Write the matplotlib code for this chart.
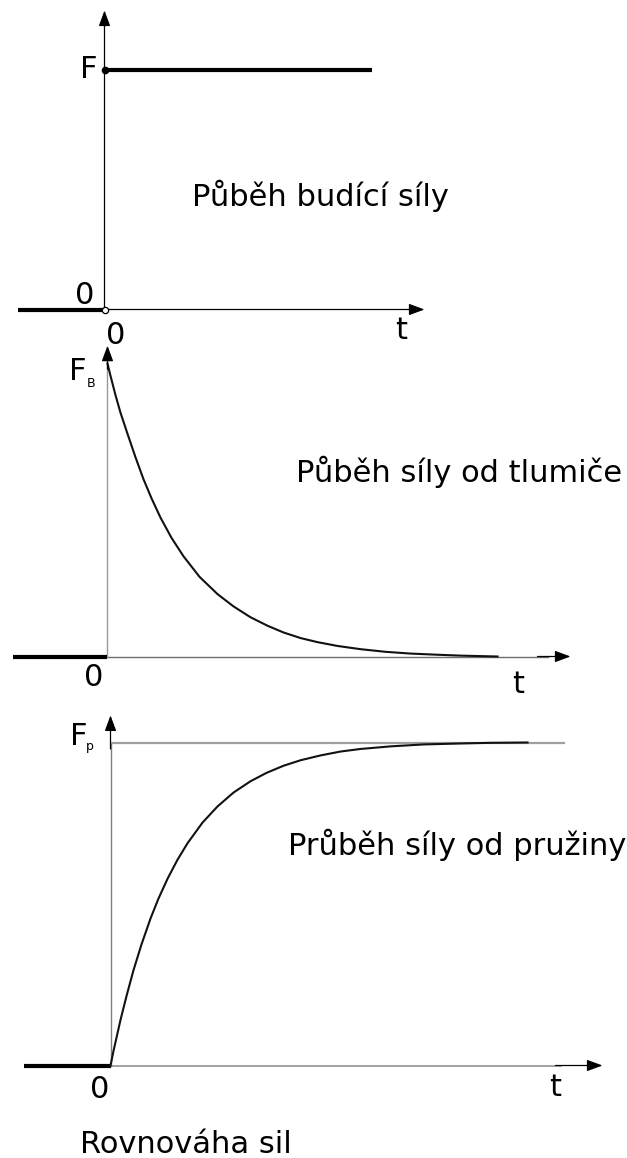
import numpy as np
import matplotlib
matplotlib.use("Agg")
from matplotlib import pyplot as plt

plt.rcParams['font.family'] = ['DejaVu Sans']
##################################################

# --- data -----------------------------------------
# step of the exciting force (normalised to F)
t_before = [-0.87, 0.0]
t_after = [0.0, 2.67]
F_level = 1.0

# damper force F_B(t), normalised
t_damper = [0, 0.03, 0.08, 0.13, 0.20, 0.28, 0.36, 0.44, 0.53, 0.64, 0.76, 0.92,
            1.10, 1.26, 1.43, 1.60, 1.76, 1.93, 2.10, 2.30, 2.53, 2.78, 3.03,
            3.30, 3.53, 3.90]
F_damper = [1.0, 0.958, 0.892, 0.832, 0.76, 0.68, 0.605, 0.54, 0.474, 0.405,
            0.342, 0.272, 0.213, 0.171, 0.134, 0.105, 0.082, 0.063, 0.049,
            0.036, 0.025, 0.016, 0.010, 0.006, 0.003, 0.0]

# spring force F_P(t), normalised
t_spring = [0, 0.03, 0.10, 0.16, 0.23, 0.31, 0.40, 0.48, 0.57, 0.67, 0.77, 0.92,
            1.07, 1.23, 1.40, 1.56, 1.73, 1.90, 2.10, 2.30, 2.50, 2.80, 3.13,
            3.50, 3.80, 4.17]
F_spring = [0, 0.045, 0.141, 0.215, 0.295, 0.375, 0.455, 0.517, 0.578, 0.637,
            0.688, 0.752, 0.802, 0.845, 0.880, 0.906, 0.928, 0.945, 0.960,
            0.972, 0.980, 0.988, 0.994, 0.997, 0.999, 1.0]

titles = ["Půběh budící síly", "Půběh síly od tlumiče", "Průběh síly od pružiny"]
footer = "Rovnováha sil"
##################################################

W, H = 627, 1158
fig = plt.figure(figsize=(W / 100, H / 100), dpi=100)
FS = 22


def add_panel(ox, oy, sx, sy, top, bottom):
    # axes spanning the full width, origin at pixel (ox, oy)
    ax = fig.add_axes([0, 1 - bottom / H, 1, (bottom - top) / H])
    ax.set_xlim(-ox / sx, (W - ox) / sx)
    ax.set_ylim((oy - bottom) / sy, (oy - top) / sy)
    ax.axis('off')
    ax.patch.set_alpha(0)
    return ax


def arrow(ax, x0, y0, x1, y1, color='black'):
    ax.annotate('', xy=(x1, y1), xytext=(x0, y0),
                arrowprops=dict(arrowstyle='-|>,head_length=0.95,head_width=0.35',
                                color=color, lw=0.9, mutation_scale=10,
                                shrinkA=0, shrinkB=0))


#panel 1 - step of the exciting force
ax1 = add_panel(104.5, 309.5, 100, 240, 0, 350)
arrow(ax1, 0, 0, 3.2, 0)
arrow(ax1, 0, 0, 0, 1.246)
ax1.plot(t_before, [0, 0], color='black', lw=3, solid_capstyle='butt')
ax1.plot(t_after, [F_level, F_level], color='black', lw=3, solid_capstyle='butt')
ax1.plot([0], [F_level], 'o', ms=4.5, color='black', zorder=5)
ax1.plot([0], [0], 'o', ms=4.5, mfc='white', mec='black', mew=0.9, zorder=5)
ax1.text(-0.07, 0.9625, "F", fontsize=FS, ha='right', va='baseline')
ax1.text(-0.10, 0.021, "0", fontsize=FS, ha='right', va='baseline')
ax1.text(0.02, -0.142, "0", fontsize=FS, ha='left', va='baseline')
ax1.text(2.91, -0.121, "t", fontsize=FS, ha='left', va='baseline')
ax1.text(0.88, 0.433, titles[0], fontsize=FS, ha='left', va='baseline')

#panel 2 - damper force
ax2 = add_panel(107.5, 656.5, 100, 293, 340, 710)
ax2.plot([0, 4.4], [0, 0], color='#6e6e6e', lw=1.0)
arrow(ax2, 4.3, 0, 4.63, 0)
ax2.plot([0, 0], [0, 1.0], color='#999999', lw=1.0)
arrow(ax2, 0, 0.98, 0, 1.061)
ax2.plot([-0.94, 0], [0, 0], color='black', lw=3, solid_capstyle='butt')
ax2.plot(t_damper, F_damper, color='#111111', lw=1.5)
ax2.text(-0.38, 0.942, "F", fontsize=FS, ha='left', va='baseline')
ax2.text(-0.205, 0.921, "B", fontsize=9, ha='left', va='baseline')
ax2.text(-0.23, -0.099, "0", fontsize=FS, ha='left', va='baseline')
ax2.text(4.05, -0.126, "t", fontsize=FS, ha='left', va='baseline')
ax2.text(1.89, 0.594, titles[1], fontsize=FS, ha='left', va='baseline')

#panel 3 - spring force
ax3 = add_panel(110.5, 1065.5, 100, 323, 700, 1158)
ax3.plot([0, 4.5], [0, 0], color='#9a9a9a', lw=1.3)
arrow(ax3, 4.45, 0, 4.92, 0)
ax3.plot([0, 0], [0, 1.0], color='#808080', lw=1.0)
arrow(ax3, 0, 0.98, 0, 1.084)
ax3.plot([0, 4.53], [F_level, F_level], color='#a0a0a0', lw=1.6)
ax3.plot([-0.87, 0], [0, 0], color='black', lw=3, solid_capstyle='butt')
ax3.plot(t_spring, F_spring, color='#111111', lw=1.5)
ax3.text(-0.41, 0.991, "F", fontsize=FS, ha='left', va='baseline')
ax3.text(-0.245, 0.978, "p", fontsize=9, ha='left', va='baseline')
ax3.text(-0.21, -0.102, "0", fontsize=FS, ha='left', va='baseline')
ax3.text(4.39, -0.093, "t", fontsize=FS, ha='left', va='baseline')
ax3.text(1.77, 0.653, titles[2], fontsize=FS, ha='left', va='baseline')
ax3.text(-0.31, -0.272, footer, fontsize=FS, ha='left', va='baseline')

fig.savefig("out.png", dpi=100)
